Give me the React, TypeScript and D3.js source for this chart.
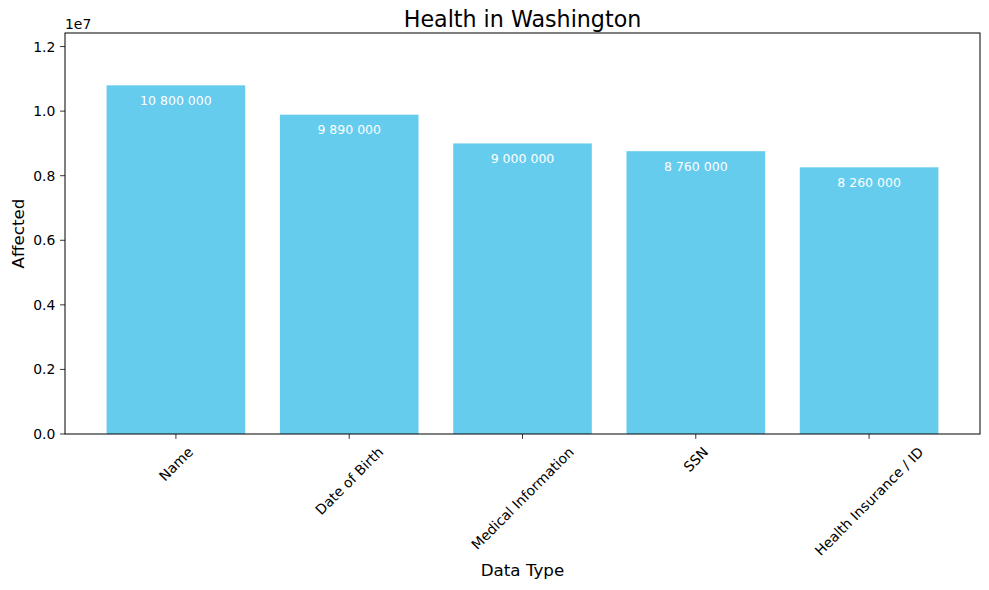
import React from "react";
import * as d3 from "d3";

const categories = ["Name", "Date of Birth", "Medical Information", "SSN", "Health Insurance / ID"];
const values = [10800000, 9890000, 9000000, 8760000, 8260000];
const yTicks = [0, 2000000, 4000000, 6000000, 8000000, 10000000, 12000000];

const W = 989;
const H = 590;
const M = { left: 65, right: 980, top: 33, bottom: 434 };
const FONT = "DejaVu Sans, sans-serif";
const BAR = "#66CCEE";

function measure(text: string, size: number): number {
  const c = document.createElement("canvas").getContext("2d");
  if (!c) return text.length * size * 0.6;
  c.font = `${size}px "DejaVu Sans"`;
  return c.measureText(text).width;
}

const fmt = (v: number) => d3.format(",")(v).replace(/,/g, " ");

export default function App() {
  const n = categories.length;
  const x = d3.scaleLinear().domain([-0.64, n - 1 + 0.64]).range([M.left, M.right]);
  const y = d3.scaleLinear().domain([0, d3.max(values)! * 1.15]).range([M.bottom, M.top]);
  const bw = x(0.4) - x(0);
  const tickFs = 13.9;
  const lh = tickFs * 1.17;

  return (
    <svg width={W} height={H} style={{ position: "absolute", left: 0, top: 0, background: "#fff" }} fontFamily={FONT}>
      <rect x={0} y={0} width={W} height={H} fill="#fff" />
      {values.map((v, i) => (
        <g key={i}>
          <rect x={x(i) - bw} y={y(v)} width={bw * 2} height={M.bottom - y(v)} fill={BAR} />
          <text x={x(i)} y={y(v) + 15} fontSize={12.5} fill="#fff" textAnchor="middle" dominantBaseline="central">
            {fmt(v)}
          </text>
        </g>
      ))}
      <rect x={M.left} y={M.top} width={M.right - M.left} height={M.bottom - M.top} fill="none" stroke="#000" strokeWidth={1} />
      {yTicks.map((t) => (
        <g key={t}>
          <line x1={M.left - 4.9} x2={M.left} y1={y(t)} y2={y(t)} stroke="#000" strokeWidth={0.8} />
          <text x={M.left - 9.7} y={y(t)} fontSize={tickFs} textAnchor="end" dominantBaseline="central" fill="#000">
            {(t / 1e7).toFixed(1)}
          </text>
        </g>
      ))}
      <text x={M.left} y={M.top - 4} fontSize={tickFs} fill="#000">1e7</text>
      {categories.map((c, i) => {
        const w = measure(c, tickFs);
        const half = (w + lh) / (2 * Math.SQRT2);
        const cx = x(i);
        const cy = M.bottom + 9.7 + half;
        return (
          <g key={c}>
            <line x1={cx} x2={cx} y1={M.bottom} y2={M.bottom + 4.9} stroke="#000" strokeWidth={0.8} />
            <text x={cx} y={cy} fontSize={tickFs} textAnchor="middle" dominantBaseline="central" fill="#000"
              transform={`rotate(-45 ${cx} ${cy})`}>
              {c}
            </text>
          </g>
        );
      })}
      <text x={(M.left + M.right) / 2} y={26.5} fontSize={22.2} textAnchor="middle" fill="#000">Health in Washington</text>
      <text x={(M.left + M.right) / 2} y={576} fontSize={16.7} textAnchor="middle" fill="#000">Data Type</text>
      <text x={24} y={(M.top + M.bottom) / 2} fontSize={16.7} textAnchor="middle" fill="#000"
        transform={`rotate(-90 24 ${(M.top + M.bottom) / 2})`}>Affected</text>
    </svg>
  );
}
